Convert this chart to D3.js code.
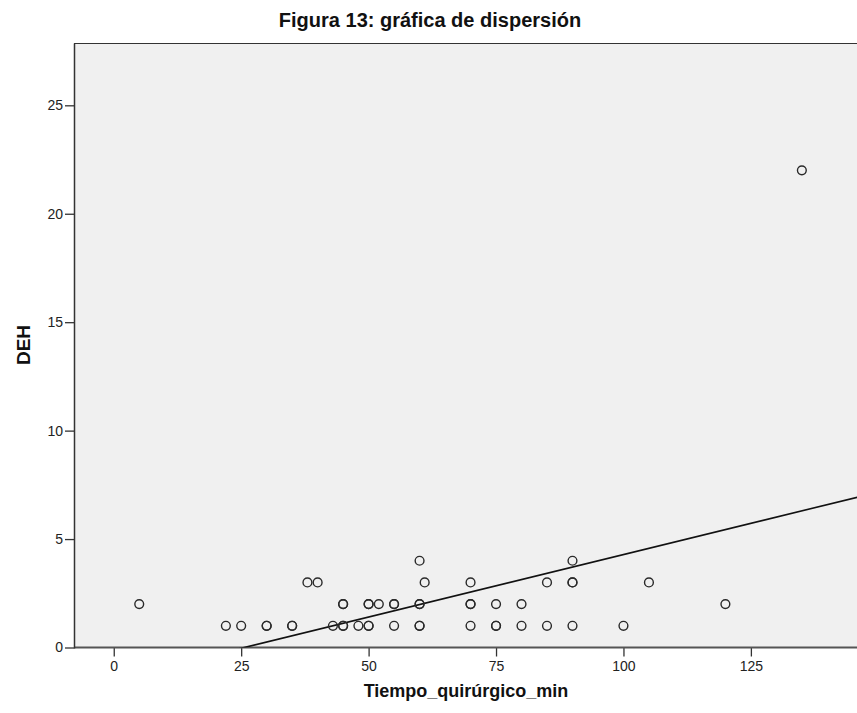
<!DOCTYPE html>
<html>
<head>
<meta charset="utf-8">
<script src="https://cdn.jsdelivr.net/npm/d3@7"></script>
<style>
  html, body { margin: 0; padding: 0; background: #ffffff; }
  svg { display: block; font-family: "Liberation Sans", Arial, sans-serif; }
</style>
</head>
<body>
<svg id="chart" width="857" height="713"></svg>
<script>
// Surgical time (minutes) and DEH for each case
const tiempo = [
  5, 45, 45, 50, 50, 52, 55, 55, 60, 60, 70, 70, 75, 80, 120,
  22, 25, 30, 30, 35, 35, 43, 45, 45, 48, 50, 50, 55, 60, 60, 70, 75, 75, 80, 85, 90, 100,
  38, 40, 61, 70, 85, 90, 90, 105,
  60, 90,
  135
];
const deh = [
  2, 2, 2, 2, 2, 2, 2, 2, 2, 2, 2, 2, 2, 2, 2,
  1, 1, 1, 1, 1, 1, 1, 1, 1, 1, 1, 1, 1, 1, 1, 1, 1, 1, 1, 1, 1, 1,
  3, 3, 3, 3, 3, 3, 3, 3,
  4, 4,
  22
];

// Linear fit line (DEH = intercept + slope * tiempo)
const fitIntercept = -1.475;
const fitSlope = 0.0576;

const xTicks = [0, 25, 50, 75, 100, 125];
const yTicks = [0, 5, 10, 15, 20, 25];

const titleText = "Figura 13: gráfica de dispersión";
const xLabel = "Tiempo_quirúrgico_min";
const yLabel = "DEH";

const svg = d3.select("#chart");

const plot = { left: 74.5, right: 862, top: 43.5, bottom: 647.5 };

const x = d3.scaleLinear().domain([-7.7, 146.8]).range([plot.left, plot.right]);
const y = d3.scaleLinear().domain([0, 27.85]).range([plot.bottom, plot.top]);

// Plot background
svg.append("rect")
  .attr("x", plot.left).attr("y", plot.top)
  .attr("width", plot.right - plot.left).attr("height", plot.bottom - plot.top)
  .attr("fill", "#f0f0f0")
  .attr("stroke", "#333").attr("stroke-width", 1);

// Clip for the marks
svg.append("clipPath").attr("id", "plotClip")
  .append("rect")
  .attr("x", plot.left).attr("y", plot.top)
  .attr("width", plot.right - plot.left).attr("height", plot.bottom - plot.top);

// Axes
const xAxis = d3.axisBottom(x).tickValues(xTicks).tickSize(9).tickPadding(5).tickFormat(d3.format("d"));
const yAxis = d3.axisLeft(y).tickValues(yTicks).tickSize(9.5).tickPadding(2).tickFormat(d3.format("d"));

const gx = svg.append("g").attr("transform", `translate(0,${plot.bottom})`).call(xAxis);
gx.select(".domain").remove();
gx.selectAll(".tick line").attr("stroke", "#333").attr("stroke-width", 1.3);
gx.selectAll(".tick text").attr("fill", "#222").style("font-size", "14px");

const gy = svg.append("g").attr("transform", `translate(${plot.left},0)`).call(yAxis);
gy.select(".domain").remove();
gy.selectAll(".tick line").attr("stroke", "#333").attr("stroke-width", 1.3);
gy.selectAll(".tick text").attr("fill", "#222").style("font-size", "14px");

// Axis lines
svg.append("line")
  .attr("x1", plot.left).attr("x2", plot.right)
  .attr("y1", plot.bottom).attr("y2", plot.bottom)
  .attr("stroke", "#555").attr("stroke-width", 2);
svg.append("line")
  .attr("x1", plot.left).attr("x2", plot.left)
  .attr("y1", plot.top).attr("y2", plot.bottom + 1)
  .attr("stroke", "#333").attr("stroke-width", 1.5);

const marks = svg.append("g").attr("clip-path", "url(#plotClip)");

// Fit line across the x domain
const xd = x.domain();
const fitPts = [xd[0], xd[1]].map(t => [t, fitIntercept + fitSlope * t]);
marks.append("line")
  .attr("x1", x(fitPts[0][0])).attr("y1", y(fitPts[0][1]))
  .attr("x2", x(fitPts[1][0])).attr("y2", y(fitPts[1][1]))
  .attr("stroke", "#111").attr("stroke-width", 1.6);

// Scatter points
const points = tiempo.map((t, i) => ({ t, d: deh[i] }));
marks.selectAll("circle.pt")
  .data(points)
  .join("circle")
  .attr("class", "pt")
  .attr("cx", p => x(p.t))
  .attr("cy", p => y(p.d))
  .attr("r", 4.4)
  .attr("fill", "none")
  .attr("stroke", "#2a2a2a")
  .attr("stroke-width", 1.4);

// Title and axis labels
svg.append("text")
  .attr("x", 430).attr("y", 27)
  .attr("text-anchor", "middle")
  .style("font-size", "20px").style("font-weight", "bold")
  .attr("fill", "#111")
  .text(titleText);

svg.append("text")
  .attr("x", 466).attr("y", 697)
  .attr("text-anchor", "middle")
  .style("font-size", "18px").style("font-weight", "bold")
  .attr("fill", "#111")
  .text(xLabel);

svg.append("text")
  .attr("transform", "translate(30,345) rotate(-90)")
  .attr("text-anchor", "middle")
  .style("font-size", "19px").style("font-weight", "bold")
  .attr("fill", "#111")
  .text(yLabel);
</script>
</body>
</html>
